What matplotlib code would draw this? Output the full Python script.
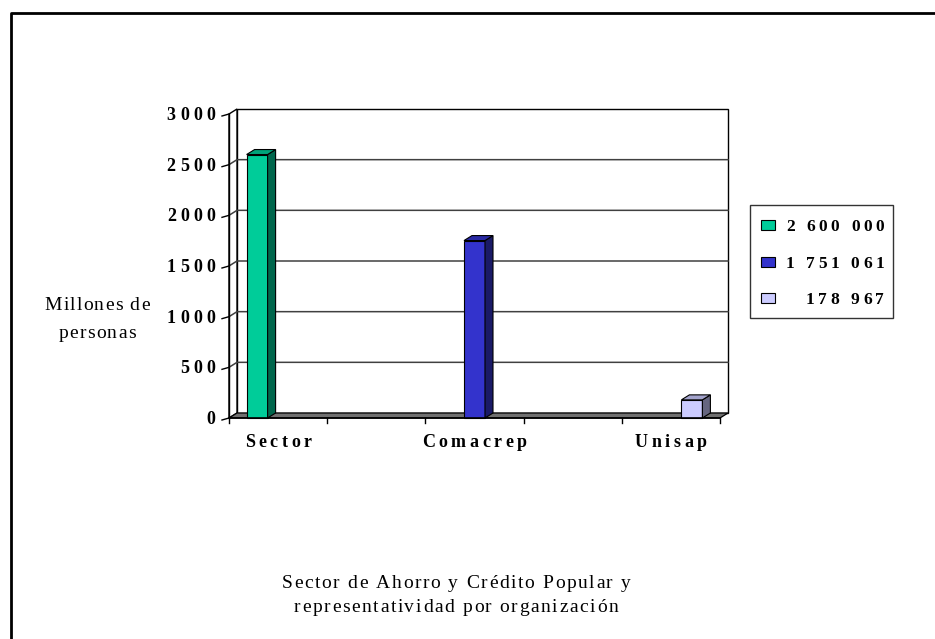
import matplotlib

matplotlib.use("Agg")
import matplotlib.pyplot as plt
from matplotlib.font_manager import FontProperties
from matplotlib.patches import Polygon, Rectangle

# datos (miles de personas)
categories = ["Sector", "", "Comacrep", "", "Unisap"]
series_labels = ["2 600 000", "1 751 061", "178 967"]
series_values = [2600, 1751.061, 178.967]
series_category = [0, 2, 4]
y_ticks = [0, 500, 1000, 1500, 2000, 2500, 3000]

front_colors = ["#00CC99", "#3333CC", "#CCCCFF"]
side_colors = ["#00664C", "#1A1A66", "#666680"]
top_colors = ["#00A37A", "#2929A3", "#A3A3CC"]

W, H = 935, 639
SERIF = ["Liberation Serif", "DejaVu Serif"]
plt.rcParams["font.family"] = SERIF
fig = plt.figure(figsize=(W / 100, H / 100), dpi=100)
renderer = fig.canvas.get_renderer()

# area del grafico en pixeles (plano frontal)
X0, X1, Y0, Y1 = 229, 720, 418, 114
ax = fig.add_axes([X0 / W, 1 - Y0 / H, (X1 - X0) / W, (Y0 - Y1) / H])
ax.set_xlim(0, len(categories))
ax.set_ylim(0, 3000)
ax.axis("off")

# capa en pixeles (origen arriba a la izquierda)
ov = fig.add_axes([0, 0, 1, 1], zorder=3)
ov.set_xlim(0, W)
ov.set_ylim(H, 0)
ov.axis("off")


def to_px(x, y):
    dx, dy = ax.transData.transform((x, y))
    return dx, H - dy


def spaced(x, y, s, size, track, weight="normal", ha="center"):
    """Texto con espaciado entre letras (como el original de Excel)."""
    prop = FontProperties(family=SERIF, size=size, weight=weight)
    widths = [renderer.get_text_width_height_descent(ch, prop, ismath=False)[0]
              if ch != " " else renderer.get_text_width_height_descent("a a", prop, ismath=False)[0]
              - 2 * renderer.get_text_width_height_descent("a", prop, ismath=False)[0]
              for ch in s]
    total = sum(widths) + track * (len(s) - 1)
    cx = x - total / 2 if ha == "center" else (x - total if ha == "right" else x)
    for ch, w in zip(s, widths):
        if ch != " ":
            ov.text(cx, y, ch, fontproperties=prop, ha="left", va="baseline")
        cx += w + track


XPX = len(categories) / (X1 - X0)   # unidades x por pixel
YPX = 3000 / (Y0 - Y1)              # unidades y por pixel
DX, DY = 8 * XPX, 5 * YPX           # profundidad 3D
NX = len(categories)

kw = dict(clip_on=False)
# pared de fondo y pared izquierda
ax.add_patch(Polygon([(DX, DY), (NX + DX, DY), (NX + DX, 3000 + DY), (DX, 3000 + DY)],
                     closed=True, fc="white", ec="black", lw=1.0, zorder=1, **kw))
ax.add_patch(Polygon([(0, 0), (DX, DY), (DX, 3000 + DY), (0, 3000)],
                     closed=True, fc="white", ec="black", lw=1.0, zorder=1, **kw))
for y in y_ticks[1:-1]:
    ax.plot([0, DX, NX + DX], [y, y + DY, y + DY], color="#404040", lw=1.1, zorder=2, **kw)
# piso
ax.add_patch(Polygon([(0, 0), (NX, 0), (NX + DX, DY), (DX, DY)],
                     closed=True, fc="#707070", ec="black", lw=0.9, zorder=2, **kw))

# barras 3D
bw = 21 * XPX
for j, (v, c) in enumerate(zip(series_values, series_category)):
    x0 = c + 0.5 + (j - 1.5) * bw
    x1 = x0 + bw
    ax.add_patch(Rectangle((x0, 0), bw, v, fc=front_colors[j], ec="black", lw=0.8, zorder=4, **kw))
    ax.add_patch(Polygon([(x1, 0), (x1 + DX, DY), (x1 + DX, v + DY), (x1, v)], closed=True,
                         fc=side_colors[j], ec="black", lw=0.8, zorder=4, **kw))
    ax.add_patch(Polygon([(x0, v), (x1, v), (x1 + DX, v + DY), (x0 + DX, v + DY)], closed=True,
                         fc=top_colors[j], ec="black", lw=0.8, zorder=4, **kw))

# ejes y marcas
ax.plot([0, 0], [0, 3000], color="black", lw=1.0, zorder=5, **kw)
ax.plot([0, NX], [0, 0], color="black", lw=1.2, zorder=5, **kw)
for y in y_ticks:
    ax.plot([-7 * XPX, 0], [y - 2 * YPX, y], color="black", lw=1.0, zorder=5, **kw)
    px, py = to_px(0, y)
    spaced(px - 14, py + 6, str(y), 13, 4.2, weight="bold", ha="right")
for i in range(NX + 1):
    ax.plot([i, i], [0, -5 * YPX], color="black", lw=1.0, zorder=5, **kw)
for i, cat in enumerate(categories):
    if cat:
        px, py = to_px(i + 0.5, 0)
        spaced(px, py + 29, cat, 13, 3.6, weight="bold")

# marco exterior
ov.plot([11, 11, W + 5], [H + 5, 13, 13], color="black", lw=2.0, clip_on=False)

# leyenda
ov.add_patch(Rectangle((750, 205), 143, 113, fc="white", ec="#333333", lw=1.0, zorder=1))
for j, (lab, yc) in enumerate(zip(series_labels, [225, 262, 298])):
    ov.add_patch(Rectangle((761, yc - 5), 14, 10, fc=front_colors[j], ec="black", lw=0.8, zorder=2))
    spaced(884, yc + 6, lab, 12.5, 3.6, weight="bold", ha="right")

spaced(97, 310, "Millones de", 14, 1.2)
spaced(97, 338, "personas", 14, 1.2)
spaced(456, 588, "Sector de Ahorro y Crédito Popular y", 14, 1.6)
spaced(456, 612, "representatividad por organización", 14, 1.6)

fig.savefig("out.png", dpi=100)
